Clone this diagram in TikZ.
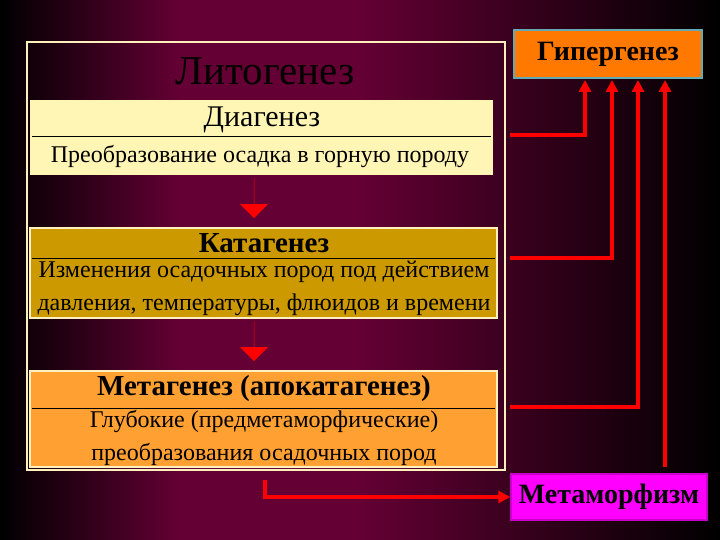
\documentclass[tikz,border=0pt]{standalone}
\usepackage{fontspec}
\setmainfont{Liberation Serif}
\usetikzlibrary{shapes.arrows,arrows.meta}
\definecolor{bgm}{RGB}{100,0,52}
\definecolor{cream}{RGB}{255,245,180}
\definecolor{gold}{RGB}{204,153,0}
\definecolor{lorange}{RGB}{255,160,50}
\definecolor{orng}{RGB}{255,120,0}
\definecolor{magen}{RGB}{255,0,255}
\definecolor{bord}{RGB}{255,240,190}
\begin{document}
\begin{tikzpicture}[x=1pt,y=-1pt,
  panel/.style={draw=bord,line width=2pt},
  rl/.style={draw=red,line width=4pt},
  rla/.style={rl,-{Triangle[length=12pt,width=12pt]}},
  downarrow/.style={single arrow,fill=red,draw=none,shape border rotate=270,minimum width=28pt,minimum height=40pt,single arrow head extend=11pt,single arrow head indent=0pt,inner sep=0pt}]
\useasboundingbox (0,0) rectangle (720,540);
\shade[left color=black,right color=bgm,middle color=bgm] (0,0) rectangle (360,540);
\shade[left color=bgm,right color=black] (360,0) rectangle (720,540);
\draw[panel,line width=2.5pt] (27,42) rectangle (505,470);
\node[font=\fontsize{41}{46}\selectfont,text=black] (lit) at (265,71) {Литогенез};
% Diagenesis
\fill[cream] (30,100) rectangle (493,175);
\draw[black,line width=1pt] (32,137) -- (491,137);
\node[font=\fontsize{30}{34}\selectfont] (dia) at (262,120) {Диагенез};
\node[font=\fontsize{24}{28}\selectfont] (diat) at (260,157) {Преобразование осадка в горную породу};
\node[downarrow] (a1) at (254,198) {};
% Katagenesis
\draw[fill=gold,draw=bord,line width=2pt] (30,228) rectangle (497,318);
\draw[black,line width=1pt] (32,258) -- (495,258);
\node[font=\bfseries\fontsize{29}{32}\selectfont] (kat) at (264,243) {Катагенез};
\node[font=\fontsize{24}{33}\selectfont,align=center] (katt) at (264,288) {Изменения осадочных пород под действием\\давления, температуры, флюидов и времени};
\node[downarrow] (a2) at (254,341) {};
% Metagenesis
\draw[fill=lorange,draw=bord,line width=2pt] (30,371) rectangle (497,467);
\draw[black,line width=1pt] (32,408) -- (495,408);
\node[font=\bfseries\fontsize{29}{32}\selectfont] (met) at (264,389) {Метагенез (апокатагенез)};
\node[font=\fontsize{24}{33}\selectfont,align=center] (mett) at (264,438) {Глубокие (предметаморфические)\\преобразования осадочных пород};
% Hypergenesis
\node[draw={rgb,255:red,100;green,170;blue,180},line width=2pt,fill=orng,minimum width=188pt,minimum height=48pt,font=\bfseries\fontsize{28}{32}\selectfont] (hyp) at (608,54) {Гипергенез};
\node[fill=magen,draw={rgb,255:red,200;green,0;blue,200},line width=1.5pt,minimum width=196pt,minimum height=46pt,font=\bfseries\fontsize{28}{32}\selectfont] (mm) at (609,497) {Метаморфизм};
\coordinate (s1) at (510,135);
\coordinate (s2) at (510,258);
\coordinate (s3) at (510,407);
\coordinate (s4) at (265,480);
\draw[rla] (s1) -- (585,135) -- (585,80);
\draw[rla] (s2) -- (612,258) -- (612,80);
\draw[rla] (s3) -- (638,407) -- (638,80);
\draw[rla] (665,467) -- (665,80);
\draw[rla] (s4) |- (mm.west);
\end{tikzpicture}
\end{document}
